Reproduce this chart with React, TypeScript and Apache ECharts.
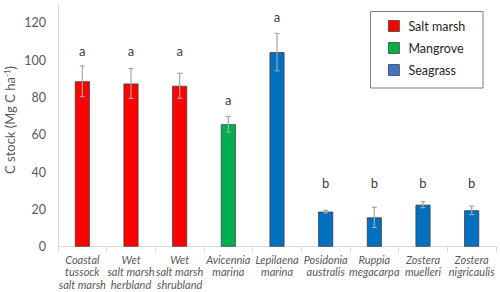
import React, { useEffect, useRef } from "react";
import * as echarts from "echarts";

const categories = [
  "Coastal\ntussock\nsalt marsh",
  "Wet\nsalt marsh\nherbland",
  "Wet\nsalt marsh\nshrubland",
  "Avicennia\nmarina",
  "Lepilaena\nmarina",
  "Posidonia\naustralis",
  "Ruppia\nmegacarpa",
  "Zostera\nmuelleri",
  "Zostera\nnigricaulis",
];
const groups = ["Salt marsh", "Salt marsh", "Salt marsh", "Mangrove", "Seagrass", "Seagrass", "Seagrass", "Seagrass", "Seagrass"];
const means = [88.6, 87.4, 86.2, 65.6, 104.2, 18.8, 15.7, 22.5, 19.5];
const errors = [8.2, 8.0, 6.7, 4.2, 10.0, 0.7, 5.4, 1.6, 2.3];
const letters = ["a", "a", "a", "a", "a", "b", "b", "b", "b"];
const letterY = [105, 105, 105, 78.7, 123.3, 34.2, 34.2, 34.2, 34.2];
const seriesNames = ["Salt marsh", "Mangrove", "Seagrass"];
const barColors = ["#FF0000", "#00B050", "#0070C0"];
const legendColors = ["#FF0000", "#00B050", "#4472C4"];

const FONT = "Lato";

export default function App() {
  const ref = useRef<HTMLDivElement>(null);
  useEffect(() => {
    document.body.style.margin = "0";
    const chart = echarts.init(ref.current!, undefined, { renderer: "svg" });
    const barSeries = seriesNames.map((name, si) => ({
      name,
      type: "bar",
      stack: "all",
      barWidth: 15,
      itemStyle: { color: barColors[si], borderColor: "#404040", borderWidth: 0.8 },
      data: means.map((v, i) => (groups[i] === name ? v : "-")),
      z: 2,
    }));
    chart.setOption({
      animation: false,
      textStyle: { fontFamily: FONT },
      grid: { left: 58, right: 4, top: 4, bottom: 45.3, containLabel: false },
      legend: {
        orient: "vertical",
        left: 388,
        top: 19.5,
        padding: 0,
        itemWidth: 11,
        itemHeight: 11,
        itemGap: 9,
        icon: "rect",
        textStyle: { fontFamily: FONT, fontSize: 12.5, color: "#262626", padding: [0, 0, 0, 4] },
        data: seriesNames.map((n, i) => ({
          name: n,
          itemStyle: { color: legendColors[i], borderColor: "#404040", borderWidth: 0.8 },
        })),
        selectedMode: false,
      },
      graphic: [
        {
          type: "rect",
          shape: { x: 370.5, y: 11.5, width: 112.5, height: 76.5 },
          style: { fill: "none", stroke: "#7F7F7F", lineWidth: 1 },
          silent: true,
        },
        {
          type: "text",
          x: 10,
          y: 120,
          rotation: Math.PI / 2,
          style: {
            text: "C stock (Mg C ha{sup|-1})",
            fontFamily: FONT,
            fontSize: 13,
            fill: "#595959",
            align: "center",
            verticalAlign: "middle",
            rich: {
              sup: { fontSize: 8, verticalAlign: "top", fill: "#595959", fontFamily: FONT, padding: [0, 0, 6, 0] },
            },
          },
        },
      ],
      xAxis: {
        type: "category",
        data: categories,
        axisLine: { lineStyle: { color: "#D9D9D9", width: 1 } },
        axisTick: { show: true, length: 5, lineStyle: { color: "#D9D9D9" } },
        axisLabel: {
          interval: 0,
          fontStyle: "italic",
          fontFamily: FONT,
          fontSize: 11,
          lineHeight: 12.7,
          color: "#595959",
          margin: 6,
        },
      },
      yAxis: {
        type: "value",
        min: 0,
        max: 130,
        interval: 20,
        splitLine: { show: false },
        axisLine: { show: true, lineStyle: { color: "#D9D9D9", width: 1 } },
        axisTick: { show: false },
        axisLabel: { showMaxLabel: false, fontFamily: FONT, fontSize: 12.5, color: "#595959", margin: 12 },
      },
      series: [
        ...barSeries,
        {
          type: "custom",
          name: "err",
          z: 5,
          data: means.map((m, i) => [i, m - errors[i], m + errors[i]]),
          renderItem: (params: any, api: any) => {
            const x = api.coord([api.value(0), 0])[0];
            const lo = api.coord([api.value(0), api.value(1)])[1];
            const hi = api.coord([api.value(0), api.value(2)])[1];
            const style = { stroke: "#A6A6A6", lineWidth: 1.2, fill: "none" };
            return {
              type: "group",
              children: [
                { type: "line", shape: { x1: x, y1: lo, x2: x, y2: hi }, style },
                { type: "line", shape: { x1: x - 2.5, y1: hi, x2: x + 2.5, y2: hi }, style },
                { type: "line", shape: { x1: x - 2.5, y1: lo, x2: x + 2.5, y2: lo }, style },
              ],
            };
          },
        },
        {
          type: "scatter",
          name: "letters",
          symbolSize: 0,
          z: 6,
          data: letterY.map((y, i) => [i, y]),
          label: {
            show: true,
            position: "inside",
            formatter: (p: any) => letters[p.dataIndex],
            fontFamily: FONT,
            fontSize: 13,
            color: "#000000",
          },
        },
      ],
    });
    return () => chart.dispose();
  }, []);
  return <div ref={ref} style={{ width: 500, height: 292 }} />;
}
